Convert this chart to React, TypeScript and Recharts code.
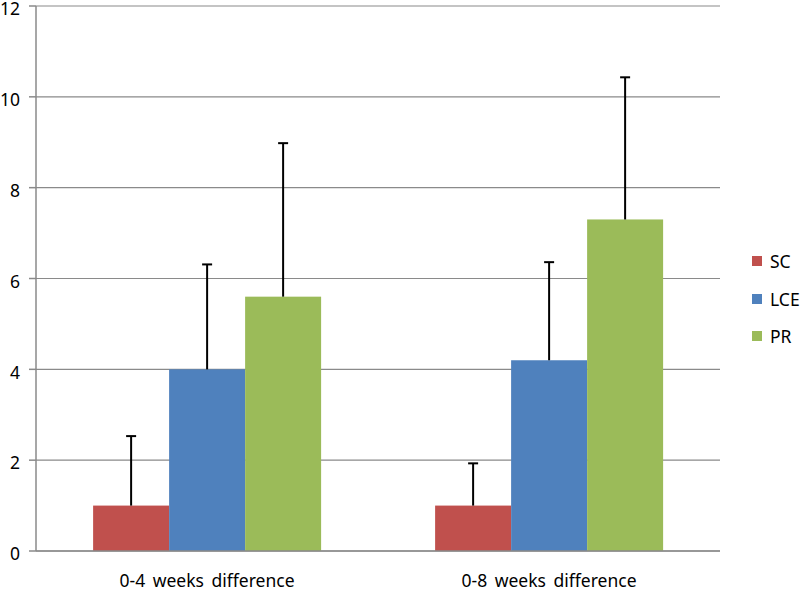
import React from 'react';
import { BarChart, Bar, XAxis, YAxis, CartesianGrid } from 'recharts';

const categories = ['0-4 weeks difference', '0-8 weeks difference'];
const seriesNames = ['SC', 'LCE', 'PR'];
const scValues = [1.0, 1.0];
const lceValues = [4.0, 4.2];
const prValues = [5.6, 7.3];
const scErrors = [1.53, 0.93];
const lceErrors = [2.31, 2.16];
const prErrors = [3.38, 3.13];
const yTicks = [0, 2, 4, 6, 8, 10, 12];
const colors = ['#C0504D', '#4F81BD', '#9BBB59'];

const data = categories.map((cat, i) => ({
  cat,
  SC: scValues[i],
  LCE: lceValues[i],
  PR: prValues[i],
  SC_err: scErrors[i],
  LCE_err: lceErrors[i],
  PR_err: prErrors[i],
}));

const GRAY = '#8a8a8a';
const FONT = '"Noto Sans", "Open Sans", sans-serif';

const makeShape = (key: string, color: string) => (props: any) => {
  const { x, y, width, height, payload } = props;
  const value = payload[key];
  const err = payload[key + '_err'];
  const pxPerUnit = value ? height / value : 0;
  const errPx = err * pxPerUnit;
  const cx = x + width / 2;
  return (
    <g>
      <rect x={x} y={y} width={width} height={height} fill={color} />
      <line x1={cx} x2={cx} y1={y} y2={y - errPx} stroke="#000" strokeWidth={2} />
      <line x1={cx - 5} x2={cx + 5} y1={y - errPx} y2={y - errPx} stroke="#000" strokeWidth={2} />
    </g>
  );
};

export default function App() {
  return (
    <div style={{ position: 'absolute', left: 0, top: 0, width: 800, height: 591, background: '#fff' }}>
      <BarChart
        width={800}
        height={591}
        data={data}
        margin={{ top: 6, right: 80, bottom: 5, left: 0 }}
        barCategoryGap="16.7%"
        barGap={0}
      >
        <CartesianGrid vertical={false} stroke={GRAY} strokeWidth={1.2} />
        <XAxis
          xAxisId="ticks"
          type="number"
          domain={[0, 2]}
          ticks={[0, 1, 2]}
          tick={false}
          tickSize={6}
          tickLine={{ stroke: GRAY, strokeWidth: 1.5 }}
          axisLine={false}
          height={0}
        />
        <XAxis
          dataKey="cat"
          tickLine={false}
          axisLine={{ stroke: GRAY, strokeWidth: 1.5 }}
          tickMargin={18}
          height={35}
          tick={{ fill: '#000', fontSize: 17.5, fontFamily: FONT, style: { wordSpacing: 3 } }}
        />
        <YAxis
          width={36}
          domain={[0, 12]}
          ticks={yTicks}
          interval={0}
          tickSize={7}
          tickMargin={9}
          tickLine={{ stroke: GRAY, strokeWidth: 1.5 }}
          axisLine={{ stroke: GRAY, strokeWidth: 1.5 }}
          tick={{ fill: '#000', fontSize: 17.5, fontFamily: FONT, dy: 3 }}
        />
        <Bar dataKey="SC" fill={colors[0]} isAnimationActive={false} shape={makeShape('SC', colors[0])} />
        <Bar dataKey="LCE" fill={colors[1]} isAnimationActive={false} shape={makeShape('LCE', colors[1])} />
        <Bar dataKey="PR" fill={colors[2]} isAnimationActive={false} shape={makeShape('PR', colors[2])} />
      </BarChart>
      <div style={{ position: 'absolute', left: 752, top: 250, width: 60, height: 110, fontFamily: FONT }}>
        {seriesNames.map((n, i) => (
          <div key={n} style={{ position: 'absolute', left: 0, top: i * 37.5, height: 22, display: 'flex', alignItems: 'center' }}>
            <div style={{ width: 10, height: 10, background: colors[i], marginRight: 8 }} />
            <span style={{ fontSize: 17.5, color: '#000', lineHeight: '22px' }}>{n}</span>
          </div>
        ))}
      </div>
    </div>
  );
}
